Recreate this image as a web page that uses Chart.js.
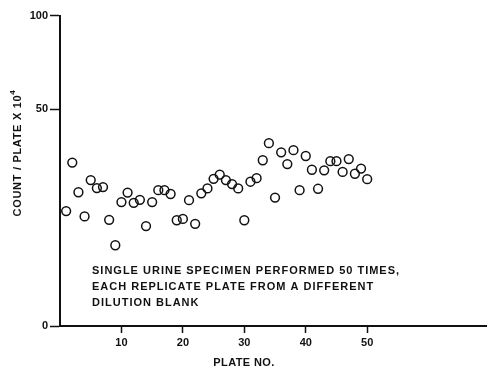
<!DOCTYPE html>
<html>
<head>
<meta charset="utf-8">
<script src="https://cdn.jsdelivr.net/npm/chart.js@4"></script>
<style>
    body { margin: 0; background: #fff; }
    #wrap { width: 487px; height: 369px; }
</style>
</head>
<body>
<div id="wrap"><canvas id="plateChart" width="487" height="369"></canvas></div>
<script>
// Plate number 1..50 and count per plate (x 10^4)
var plates = [1, 2, 3, 4, 5, 6, 7, 8, 9, 10,
              11, 12, 13, 14, 15, 16, 17, 18, 19, 20,
              21, 22, 23, 24, 25, 26, 27, 28, 29, 30,
              31, 32, 33, 34, 35, 36, 37, 38, 39, 40,
              41, 42, 43, 44, 45, 46, 47, 48, 49, 50];
var counts = [14.8, 29.1, 19.8, 13.5, 23.4, 21.0, 21.3, 12.7, 7.5, 17.1,
              19.7, 16.9, 17.7, 11.3, 17.1, 20.4, 20.4, 19.3, 12.6, 12.9,
              17.6, 11.8, 19.5, 20.9, 23.8, 25.1, 23.4, 22.2, 20.9, 12.6,
              22.9, 24.0, 29.9, 36.1, 18.3, 32.7, 28.6, 33.5, 20.4, 31.4,
              26.7, 20.8, 26.5, 29.6, 29.6, 26.0, 30.3, 25.4, 27.1, 23.7];
var xTicks = [10, 20, 30, 40, 50];
var yTicks = [0, 50, 100];
var note = ['SINGLE URINE SPECIMEN PERFORMED 50 TIMES,',
            'EACH REPLICATE PLATE FROM A DIFFERENT',
            'DILUTION BLANK'];

var INK = '#111';
var FONT = '"Liberation Sans", Arial, sans-serif';
var Y_POWER = 0.52;   // count axis is compressed (roughly square-root spacing)

class PowerScale extends Chart.LinearScale {
    getPixelForValue(value) {
        var lo = Math.pow(this.min, Y_POWER), hi = Math.pow(this.max, Y_POWER);
        var v = Math.pow(Math.max(value, 0), Y_POWER);
        return this.getPixelForDecimal((v - lo) / (hi - lo));
    }
    getValueForPixel(pixel) {
        var lo = Math.pow(this.min, Y_POWER), hi = Math.pow(this.max, Y_POWER);
        var s = lo + this.getDecimalForPixel(pixel) * (hi - lo);
        return Math.pow(s, 1 / Y_POWER);
    }
}
PowerScale.id = 'power';
PowerScale.defaults = Chart.LinearScale.defaults;
Chart.register(PowerScale);

function spaced(ctx, text, x, y, spacing, align) {
    ctx.letterSpacing = spacing + 'px';
    var w = ctx.measureText(text).width;
    var sx = align === 'center' ? x - w / 2 : x;
    ctx.textAlign = 'left';
    ctx.fillText(text, sx, y);
    return w;
}

var labelsPlugin = {
    id: 'labels',
    afterDraw: function(chart) {
        var ctx = chart.ctx;
        var area = chart.chartArea;
        ctx.save();
        ctx.fillStyle = INK;
        ctx.textBaseline = 'middle';

        // notes inside the plot
        ctx.font = 'bold 11px ' + FONT;
        note.forEach(function(line, i) {
            spaced(ctx, line, area.left + 32, 271 + i * 16, 1.0, 'left');
        });

        // x title
        ctx.font = 'bold 11px ' + FONT;
        spaced(ctx, 'PLATE NO.', 244, 363, 0.4, 'center');

        // y title with superscript
        ctx.translate(18, 153);
        ctx.rotate(-Math.PI / 2);
        ctx.font = 'bold 11px ' + FONT;
        ctx.letterSpacing = '0.7px';
        var main = 'COUNT / PLATE X 10';
        var w = ctx.measureText(main).width;
        ctx.font = 'bold 8px ' + FONT;
        var ws = ctx.measureText('4').width;
        var start = -(w + ws) / 2;
        ctx.font = 'bold 11px ' + FONT;
        ctx.textAlign = 'left';
        ctx.fillText(main, start, 0);
        ctx.font = 'bold 8px ' + FONT;
        ctx.fillText('4', start + w, -5);
        ctx.restore();
    }
};

var ctx = document.getElementById('plateChart').getContext('2d');
var plateChart = new Chart(ctx, {
    type: 'scatter',
    data: {
        datasets: [{
            data: plates.map(function(p, i) { return { x: p, y: counts[i] }; }),
            pointStyle: 'circle',
            pointRadius: 4.4,
            pointBorderWidth: 1.5,
            borderColor: INK,
            backgroundColor: 'rgba(255,255,255,0)',
            showLine: false
        }]
    },
    options: {
        responsive: false,
        devicePixelRatio: 1,
        animation: false,
        events: [],
        layout: { autoPadding: false, padding: { top: 15.5, left: 0, right: 0, bottom: 0 } },
        plugins: { legend: { display: false }, tooltip: { enabled: false } },
        scales: {
            x: {
                type: 'linear',
                min: 0,
                max: 69.5,
                afterFit: function(scale) { scale.height = 43; },
                afterBuildTicks: function(scale) {
                    scale.ticks = xTicks.map(function(v) { return { value: v }; });
                },
                grid: { drawOnChartArea: false, drawTicks: true, tickLength: 7, tickWidth: 1.5, tickColor: INK },
                border: { display: true, color: INK, width: 2 },
                ticks: { color: INK, padding: 3, font: { family: FONT, size: 11, weight: 'bold' } }
            },
            y: {
                type: 'power',
                min: 0,
                max: 100,
                afterFit: function(scale) { scale.width = 60; },
                afterBuildTicks: function(scale) {
                    scale.ticks = yTicks.map(function(v) { return { value: v }; });
                },
                grid: { drawOnChartArea: false, drawTicks: true, tickLength: 10, tickWidth: 1.5, tickColor: INK },
                border: { display: true, color: INK, width: 2 },
                ticks: { color: INK, padding: 2, font: { family: FONT, size: 11, weight: 'bold' } }
            }
        }
    },
    plugins: [labelsPlugin]
});
</script>
</body>
</html>
